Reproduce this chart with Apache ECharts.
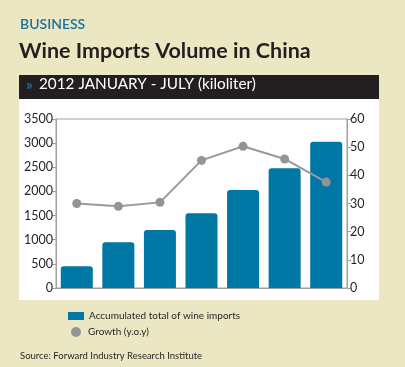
<!DOCTYPE html>
<html><head><meta charset="utf-8">
<script src="https://cdn.jsdelivr.net/npm/echarts@6/dist/echarts.min.js"></script>
<style>html,body{margin:0;padding:0;background:#ece7c3;}#c{width:405px;height:367px;}</style>
</head><body><div id="c"></div>
<script>
const categories = ['Jan','Feb','Mar','Apr','May','Jun','Jul'];
const imports = [450, 950, 1200, 1550, 2030, 2480, 3030];
const growth = [30, 29, 30.4, 45.3, 50.3, 45.8, 37.6];
const leftTicks = [0, 3500, 500];
const rightTicks = [0, 60, 10];
const FONT = 'Lato, "Open Sans", sans-serif';

const chart = echarts.init(document.getElementById('c'), null, {renderer:'canvas'});
chart.setOption({
  backgroundColor: '#ece7c3',
  animation: false,
  graphic: [
    {type:'rect', shape:{x:19, y:99, width:360, height:201}, style:{fill:'#ffffff'}, z:-10},
    {type:'rect', shape:{x:19, y:75, width:360, height:24}, style:{fill:'#231f20'}, z:-10},
    {type:'text', left:20, top:17, style:{text:'BUSINESS', fill:'#1a72a0', font:'600 14px ' + FONT}},
    {type:'text', left:19, top:40, style:{text:'Wine Imports Volume in China', fill:'#231f20', font:'bold 21.5px ' + FONT}},
    {type:'text', left:26, top:78, style:{text:'»', fill:'#1a72a0', font:'bold 15px ' + FONT}},
    {type:'text', left:39, top:77, style:{text:'2012 JANUARY - JULY (kiloliter)', fill:'#ffffff', font:'15.3px ' + FONT}},
    {type:'text', left:20, top:351, style:{text:'Source: Forward Industry Research Institute', fill:'#231f20', font:'9.5px ' + FONT}}
  ],
  legend: [
    {data:[{name:'Accumulated total of wine imports', icon:'rect'}], left:63, top:306, itemWidth:16, itemHeight:8,
     textStyle:{fontFamily:FONT, fontSize:10, color:'#231f20'}},
    {data:[{name:'Growth (y.o.y)', icon:'circle'}], left:66, top:322, itemWidth:10, itemHeight:10,
     textStyle:{fontFamily:FONT, fontSize:10, color:'#231f20', padding:[0,0,0,2]}}
  ],
  grid: {left:56, right:58, top:119, bottom:79, show:true, borderColor:'#a0a0a0', borderWidth:1},
  xAxis: {type:'category', data:categories, axisLabel:{show:false}, axisTick:{show:false},
    axisLine:{lineStyle:{color:'#a0a0a0'}}},
  yAxis: [
    {type:'value', min:leftTicks[0], max:leftTicks[1], interval:leftTicks[2], splitLine:{show:false},
     axisLine:{show:true, lineStyle:{color:'#a0a0a0'}}, axisTick:{show:true, length:4, lineStyle:{color:'#a0a0a0'}},
     axisLabel:{color:'#231f20', fontFamily:FONT, fontSize:12.5, margin:3, formatter:(v)=>String(v)}},
    {type:'value', position:'right', min:rightTicks[0], max:rightTicks[1], interval:rightTicks[2], splitLine:{show:false},
     axisLine:{show:true, lineStyle:{color:'#a0a0a0'}}, axisTick:{show:true, length:4, lineStyle:{color:'#a0a0a0'}},
     axisLabel:{color:'#231f20', fontFamily:FONT, fontSize:12.5, margin:3, formatter:(v)=>String(v)}}
  ],
  series: [
    {name:'Accumulated total of wine imports', type:'bar', data:imports, yAxisIndex:0, barCategoryGap:'23%',
     itemStyle:{color:'#0077a5', borderRadius:[3,3,0,0]}},
    {name:'Growth (y.o.y)', type:'line', data:growth, yAxisIndex:1, symbol:'circle', symbolSize:9,
     lineStyle:{color:'#9a9a9e', width:2}, itemStyle:{color:'#939398'}, z:5}
  ]
});
</script></body></html>
